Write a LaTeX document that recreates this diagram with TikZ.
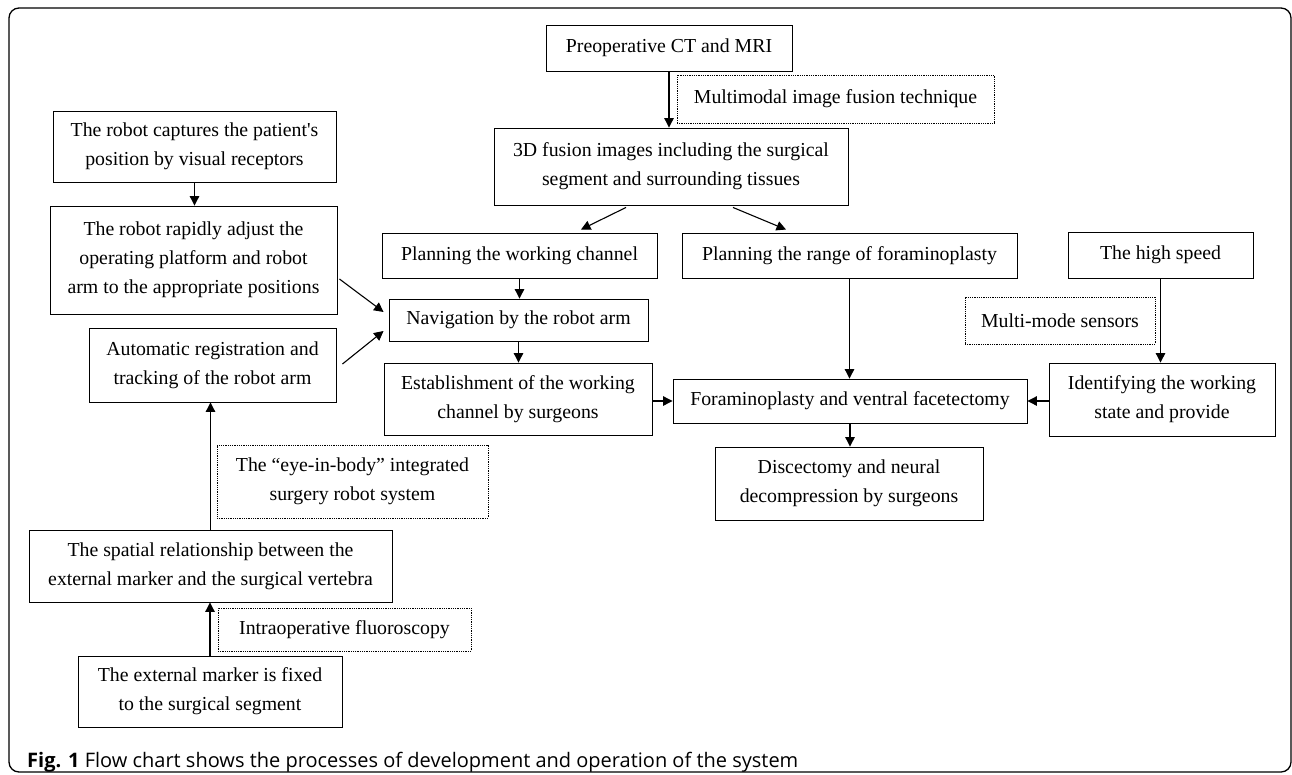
\documentclass[tikz,border=0pt]{standalone}
\usepackage{fontspec}
\setmainfont{Liberation Serif}
\newfontfamily\capfont{Open Sans}
\usetikzlibrary{arrows.meta,calc}
\begin{document}
\begin{tikzpicture}[x=1pt,y=-1pt,
  box/.style={draw, line width=0.9pt, inner sep=0pt, align=center, font=\fontsize{19.8}{29}\selectfont},
  dbox/.style={draw, line width=0.8pt, dash pattern=on 0.9pt off 0.9pt, inner sep=0pt, align=center, font=\fontsize{19.8}{29}\selectfont},
  arr/.style={line width=1.1pt, -{Triangle[length=9.5pt,width=9.5pt]}}
]
\useasboundingbox (0,0) rectangle (1292,774);
\draw[line width=1.3pt, rounded corners=10pt] (9,8) rectangle (1291,772);

\node[box, minimum width=246pt, minimum height=46pt] (preop) at (669,48) {Preoperative CT and MRI};
\node[dbox, minimum width=317pt, minimum height=48pt] (mm) at (835.5,99) {Multimodal image fusion technique};
\node[box, minimum width=354pt, minimum height=77pt] (fusion) at (671,166.5) {3D fusion images including the surgical\\segment and surrounding tissues};
\node[box, minimum width=275pt, minimum height=45pt] (pchan) at (519.5,255.5) {Planning the working channel};
\node[box, minimum width=335pt, minimum height=45pt] (range) at (849.5,255.5) {Planning the range of foraminoplasty};
\node[box, minimum width=259pt, minimum height=42pt] (nav) at (518.5,320) {Navigation by the robot arm};
\node[box, minimum width=268pt, minimum height=72pt] (estab) at (518,399) {Establishment of the working\\channel by surgeons};
\node[box, minimum width=354pt, minimum height=44pt] (foram) at (850,401) {Foraminoplasty and ventral facetectomy};
\node[box, minimum width=268pt, minimum height=73pt] (disc) at (849,483.5) {Discectomy and neural\\decompression by surgeons};
\node[box, minimum width=185pt, minimum height=46pt] (speed) at (1160.5,255) {The high speed};
\node[dbox, minimum width=190pt, minimum height=47pt] (mms) at (1060,320.5) {Multi-mode sensors};
\node[box, minimum width=226pt, minimum height=73pt] (ident) at (1162,399.5) {Identifying the working\\state and provide};
\node[box, minimum width=283pt, minimum height=71pt] (robot) at (194.5,146.5) {The robot captures the patient\textquotesingle s\\position by visual receptors};
\node[box, minimum width=287pt, minimum height=108pt] (adjust) at (193.5,260) {The robot rapidly adjust the\\operating platform and robot\\arm to the appropriate positions};
\node[box, minimum width=247pt, minimum height=74pt] (auto) at (212.5,365) {Automatic registration and\\tracking of the robot arm};
\node[dbox, minimum width=271pt, minimum height=73pt] (eye) at (352.5,481.5) {The “eye-in-body” integrated\\surgery robot system};
\node[box, minimum width=363pt, minimum height=72pt] (spatial) at (210.5,566) {The spatial relationship between the\\external marker and the surgical vertebra};
\node[dbox, minimum width=253pt, minimum height=43pt] (intra) at (344.5,629.5) {Intraoperative fluoroscopy};
\node[box, minimum width=264pt, minimum height=71pt] (ext) at (210,691.5) {The external marker is fixed\\to the surgical segment};

\node[anchor=base west, inner sep=0pt, font=\capfont\fontsize{20}{22}\selectfont] (cap) at (27,767) {\textbf{Fig. 1} Flow chart shows the processes of development and operation of the system};

\draw[arr] (preop.south) -- (preop.south |- fusion.north);
\draw[arr] ($(fusion.south)+(-45,2)$) -- ($(pchan.north)+(61.5,-3)$);
\draw[arr] ($(fusion.south)+(62,2)$) -- ($(range.north)+(-63.5,-3)$);
\draw[arr] (pchan.south) -- (pchan.south |- nav.north);
\draw[arr] (nav.south) -- (nav.south |- estab.north);
\draw[arr] (estab.east |- foram.west) -- (foram.west);
\draw[arr] (range.south) -- (range.south |- foram.north);
\draw[arr] (foram.south) -- (foram.south |- disc.north);
\draw[arr] (speed.south) -- (speed.south |- ident.north);
\draw[arr] (ident.west |- foram.east) -- (foram.east);
\draw[arr] (robot.south) -- (robot.south |- adjust.north);
\draw[arr] ($(adjust.east)+(2,19)$) -- ($(nav.west)+(-5,-8)$);
\draw[arr] ($(auto.east)+(6,-1)$) -- ($(nav.west)+(-5,11)$);
\draw[arr] (spatial.north) -- (spatial.north |- auto.south);
\draw[arr] (ext.north) -- (ext.north |- spatial.south);
\end{tikzpicture}
\end{document}
